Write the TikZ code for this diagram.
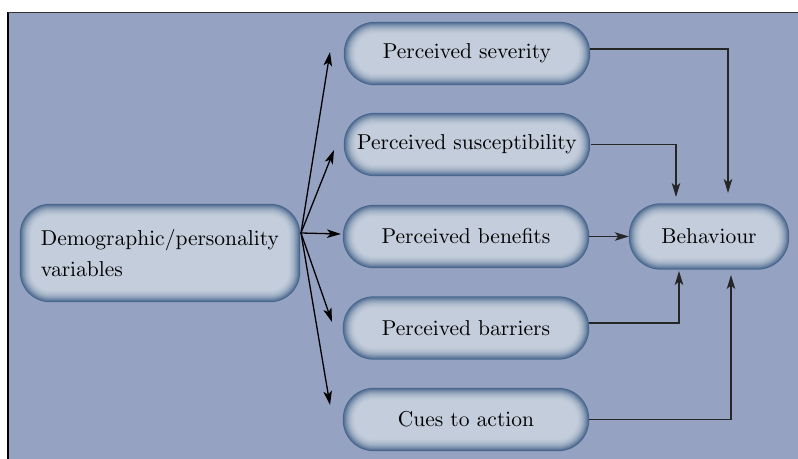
\documentclass[tikz,border=0pt]{standalone}
\usetikzlibrary{arrows.meta,calc}
\pgfdeclarelayer{bg}
\pgfsetlayers{bg,main}
\definecolor{bgc}{HTML}{95A2C2}
\definecolor{edgec}{HTML}{47658C}
\definecolor{corec}{HTML}{C3CDDB}
\font\boxfont=cmr10 at 21.5pt
\newcommand\shadebox[2]{%
  \foreach \d/\p in {0/0,1/16,2/30,3/43,4/54,5/64,6/73,7/80,8/86,9/91,10/95,11/98,12/100}{%
    \pgfmathsetmacro\rr{#2-\d}%
    \fill[corec!\p!edgec, rounded corners=\rr pt]
      ([shift={(\d pt,\d pt)}]#1.south west) rectangle ([shift={(-\d pt,-\d pt)}]#1.north east);
  }}
\tikzset{
  box/.style={inner sep=0pt, align=center, font={\boxfont\baselineskip=31pt}, text=black},
  pill/.style={box, minimum width=246pt, minimum height=63pt},
  arr/.style={line width=1.3pt, -{Stealth[length=14pt,width=8.5pt,inset=3.5pt]}},
  link/.style={line width=1.3pt, draw=black!85},
}
\begin{document}
\begin{tikzpicture}[x=1pt,y=-1pt]
\useasboundingbox (0,0) rectangle (798,458);
% nodes
\node[box, minimum width=280pt, minimum height=98pt, align=left] (demo) at (160,253) {Demographic/personality\\variables};
\node[pill] (sev) at (467,53.5) {Perceived severity};
\node[pill] (sus) at (467,144.5) {Perceived susceptibility};
\node[pill] (ben) at (466,236.5) {Perceived benefits};
\node[pill] (bar) at (466,328) {Perceived barriers};
\node[pill] (cue) at (466,419.5) {Cues to action};
\node[box, minimum width=160pt, minimum height=66pt] (beh) at (709,236.5) {Behaviour};
% background and shading
\begin{pgfonlayer}{bg}
  \fill[bgc] (8,12) rectangle (800,460);
  \draw[line width=1.6pt, black] (8,460) -- (8,12);
  \draw[line width=1pt, black!80] (8,12) -- (800,12);
  \shadebox{demo}{30}
  \shadebox{sev}{31}
  \shadebox{sus}{31}
  \shadebox{ben}{31}
  \shadebox{bar}{31}
  \shadebox{cue}{31}
  \shadebox{beh}{32}
\end{pgfonlayer}
% fan from demographic node
\coordinate (fan) at (301,233);
\coordinate (tsev) at (330,52);
\coordinate (tsus) at (334,150);
\coordinate (tben) at (341,234);
\coordinate (tbar) at (332,322);
\coordinate (tcue) at (330,405);
\foreach \t in {tsev,tsus,tben,tbar,tcue} \draw[arr] (fan) -- (\t);
% connectors to behaviour
\coordinate (bsev) at (728,193);
\coordinate (bsus) at (676,197);
\coordinate (bbar) at (679,271);
\coordinate (bcue) at (731,275);
\draw[link, arr] ([yshift=4.5pt]sev.east) -| (bsev);
\draw[link, arr] ([xshift=1pt]sus.east) -| (bsus);
\draw[link, arr] (ben.east) -- (beh.west);
\draw[link, arr] ([yshift=5pt]bar.east) -| (bbar);
\draw[link, arr] (cue.east) -| (bcue);
\end{tikzpicture}
\end{document}
